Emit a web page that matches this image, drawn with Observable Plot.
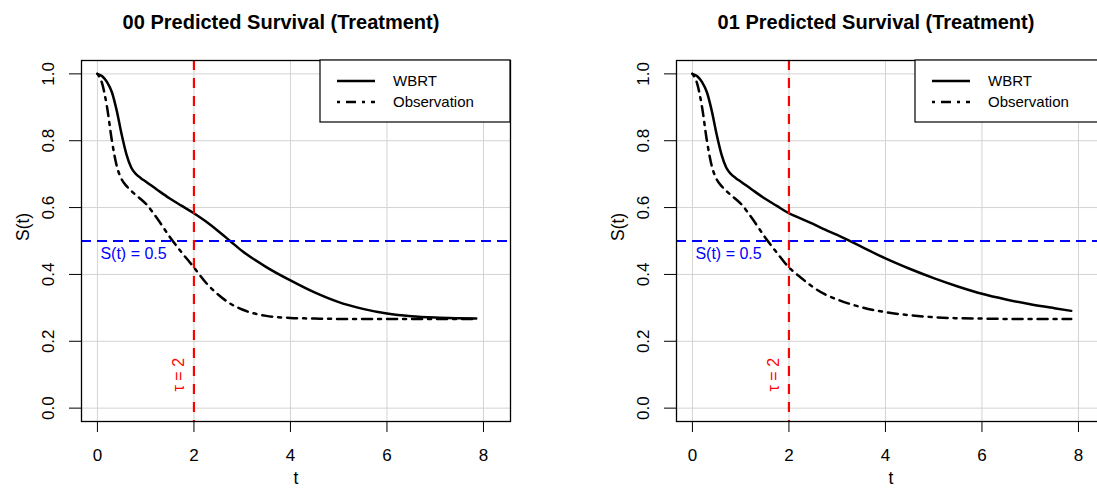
<!DOCTYPE html>
<html><head><meta charset="utf-8">
<script src="https://cdn.jsdelivr.net/npm/d3@7"></script>
<script src="https://cdn.jsdelivr.net/npm/@observablehq/plot@0.6"></script>
<style>
html,body{margin:0;padding:0;background:#fff;overflow:hidden;width:1097px;height:490px;}
#wrap{position:relative;width:1097px;height:490px;overflow:hidden;background:#fff;}
.panel{position:absolute;top:0;width:548px;height:490px;}
</style></head><body><div id="wrap"></div>
<script>
// ---- data ----
const timeGrid = [0,0.1,0.2,0.3,0.4,0.5,0.6,0.7,0.8,0.9,1.0,1.25,1.5,1.75,2.0,2.25,2.5,2.75,3.0,3.5,4.0,4.5,5.0,5.5,6.0,6.5,7.0,7.5,7.85];
const wbrt00 = [1.0,0.993,0.975,0.945,0.89,0.82,0.76,0.72,0.70,0.688,0.678,0.652,0.627,0.605,0.583,0.558,0.530,0.500,0.470,0.422,0.382,0.346,0.317,0.297,0.283,0.275,0.271,0.269,0.268];
const obs00  = [1.0,0.97,0.90,0.80,0.725,0.685,0.665,0.65,0.637,0.625,0.612,0.565,0.512,0.465,0.421,0.375,0.340,0.313,0.295,0.276,0.270,0.268,0.267,0.267,0.267,0.267,0.267,0.267,0.267];
const wbrt01 = [1.0,0.993,0.975,0.945,0.89,0.82,0.76,0.72,0.70,0.688,0.678,0.652,0.627,0.605,0.583,0.567,0.551,0.534,0.518,0.483,0.448,0.417,0.389,0.364,0.342,0.325,0.311,0.299,0.291];
const obs01  = [1.0,0.97,0.90,0.80,0.725,0.685,0.665,0.65,0.637,0.625,0.612,0.565,0.512,0.465,0.421,0.390,0.362,0.340,0.325,0.302,0.287,0.278,0.272,0.269,0.268,0.267,0.267,0.267,0.267];
const xTicks = [0,2,4,6,8];
const yTicks = [0,0.2,0.4,0.6,0.8,1.0];
const panelTitles = ["00 Predicted Survival (Treatment)","01 Predicted Survival (Treatment)"];
const seriesNames = ["WBRT","Observation"];
const tau = 2;
const medianLevel = 0.5;
const tauLabelLevel = 0.1;

const FONT = "'Liberation Sans', Arial, Helvetica, sans-serif";
const OBS_DASH = "3,6,10,6";

function makePanel(title, wbrt, obs, leftPx) {
  const rows = [];
  timeGrid.forEach((t, i) => {
    rows.push({t, s: wbrt[i], g: seriesNames[0]});
    rows.push({t, s: obs[i], g: seriesNames[1]});
  });
  const W = 548, H = 490, mL = 81, mR = 38, mT = 60, mB = 69;
  const chart = Plot.plot({
    width: W, height: H,
    marginLeft: mL, marginRight: mR, marginTop: mT, marginBottom: mB,
    style: {fontFamily: FONT, fontSize: "17px", color: "black", background: "white", overflow: "visible"},
    x: {domain: [-0.33, 8.56]},
    y: {domain: [-0.04, 1.04]},
    marks: [
      Plot.gridX(xTicks, {stroke: "#d3d3d3", strokeOpacity: 1, strokeWidth: 1}),
      Plot.gridY(yTicks, {stroke: "#d3d3d3", strokeOpacity: 1, strokeWidth: 1}),
      Plot.axisX({ticks: xTicks, tickSize: 11, tickPadding: 16, label: null, fontSize: 17}),
      Plot.axisY({ticks: yTicks, tickSize: 12, tickRotate: -90, tickPadding: 16, tickFormat: d3.format(".1f"), label: null, fontSize: 17}),
      Plot.line(rows.filter(d => d.g === seriesNames[0]), {x: "t", y: "s", stroke: "black", strokeWidth: 2.5, curve: "monotone-x"}),
      Plot.line(rows.filter(d => d.g === seriesNames[1]), {x: "t", y: "s", stroke: "black", strokeWidth: 2.5, curve: "monotone-x", strokeDasharray: OBS_DASH}),
      Plot.ruleY([medianLevel], {stroke: "#0000ff", strokeWidth: 2.2, strokeDasharray: "10,6"}),
      Plot.ruleX([tau], {stroke: "#ff0000", strokeWidth: 2.2, strokeDasharray: "10,8"}),
      Plot.text([{t: 0, s: medianLevel, label: "S(t) = " + medianLevel}], {x: "t", y: "s", text: "label", textAnchor: "start", dx: 3, dy: 13, fill: "#0000ff", fontSize: 16}),
      Plot.text([{t: tau, s: tauLabelLevel, label: "τ = " + tau}], {x: "t", y: "s", text: "label", rotate: -90, dx: -15, fill: "#ff0000", fontSize: 16}),
      Plot.frame({stroke: "black", strokeWidth: 1.3}),
      Plot.text([title], {frameAnchor: "top", dy: -46, dx: -15, fontWeight: "bold", fontSize: 20}),
      Plot.text(["t"], {frameAnchor: "bottom", dy: 62, fontSize: 17.5}),
      Plot.text(["S(t)"], {frameAnchor: "left", dx: -58, rotate: -90, fontSize: 17.5})
    ]
  });
  // legend (top-right of plot frame)
  const svg = d3.select(chart);
  const fr = W - mR;
  const lg = svg.append("g").attr("font-family", FONT).attr("font-size", 15);
  const lx = fr - 190, ly = mT, lw = 190, lh = 62;
  lg.append("rect").attr("x", lx).attr("y", ly).attr("width", lw).attr("height", lh)
    .attr("fill", "white").attr("stroke", "black").attr("stroke-width", 1.2);
  const entries = [{name: seriesNames[0], dash: null}, {name: seriesNames[1], dash: OBS_DASH}];
  entries.forEach((e, i) => {
    const yy = ly + 21 + i * 21;
    const ln = lg.append("line").attr("x1", lx + 17).attr("x2", lx + 55).attr("y1", yy).attr("y2", yy)
      .attr("stroke", "black").attr("stroke-width", 2.5);
    if (e.dash) ln.attr("stroke-dasharray", e.dash);
    lg.append("text").attr("x", lx + 73).attr("y", yy).attr("dy", "0.35em").attr("text-anchor", "start").text(e.name);
  });
  const div = document.createElement("div");
  div.className = "panel";
  div.style.left = leftPx + "px";
  div.appendChild(chart);
  document.getElementById("wrap").appendChild(div);
}

makePanel(panelTitles[0], wbrt00, obs00, 0);
makePanel(panelTitles[1], wbrt01, obs01, 595);
</script>
</body></html>
